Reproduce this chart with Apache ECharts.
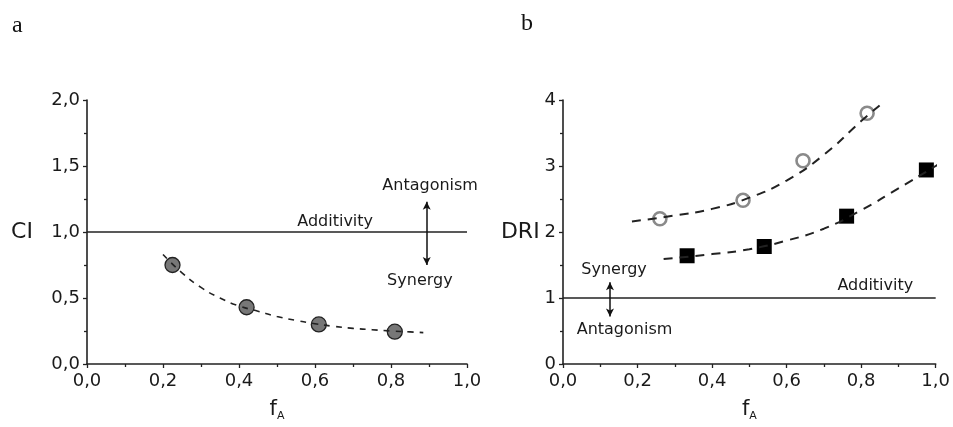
<!DOCTYPE html>
<html><head><meta charset="utf-8">
<script src="https://cdn.jsdelivr.net/npm/echarts@6/dist/echarts.min.js"></script>
<style>html,body{margin:0;padding:0;background:#fff}#c{width:953px;height:427px}</style>
</head><body><div id="c"></div>
<script>
// Panel a: CI vs fA
const ciPoints = [[0.225, 0.75], [0.42, 0.43], [0.61, 0.30], [0.81, 0.245]];
const ciFit = [[0.20,0.83],[0.25,0.69],[0.30,0.58],[0.35,0.50],[0.40,0.44],[0.45,0.40],[0.50,0.36],[0.55,0.33],[0.60,0.305],[0.65,0.285],[0.70,0.27],[0.75,0.26],[0.80,0.25],[0.85,0.243],[0.885,0.238]];
// Panel b: DRI vs fA
const driCircles = [[0.26, 2.20], [0.483, 2.48], [0.644, 3.08], [0.816, 3.80]];
const driCircleFit = [[0.185,2.16],[0.30,2.25],[0.40,2.35],[0.50,2.52],[0.60,2.78],[0.70,3.17],[0.80,3.68],[0.851,3.925]];
const driSquares = [[0.333, 1.64], [0.54, 1.78], [0.761, 2.24], [0.975, 2.94]];
const driSquareFit = [[0.27,1.59],[0.40,1.665],[0.50,1.74],[0.60,1.87],[0.70,2.05],[0.80,2.33],[0.90,2.66],[1.00,3.00],[1.03,3.10]];
const additivity = [[0, 1], [1, 1]];
const xTickLabels = ['0,0','0,2','0,4','0,6','0,8','1,0'];
const yTickLabelsA = ['0,0','0,5','1,0','1,5','2,0'];
const yTickLabelsB = ['0','1','2','3','4'];
const annotA = [{name:'Additivity', value:[0.653,1.079]},{name:'Antagonism', value:[0.903,1.348]},{name:'Synergy', value:[0.876,0.629]}];
const annotB = [{name:'Additivity', value:[0.838,1.18]},{name:'Synergy', value:[0.137,1.42]},{name:'Antagonism', value:[0.165,0.51]}];
const arrowA = [[0.894,1.23],[0.894,0.75]];
const arrowB = [[0.126,1.24],[0.126,0.72]];

const FONT = 'DejaVu Sans';
const TXT = '#1a1a1a';
const AX = '#222';

function xAxisCfg(gi){
  return {
    gridIndex: gi, type:'value', min:0, max:1, interval:0.2,
    name:'{f|f}{s|A}', nameLocation:'middle', nameGap:46,
    nameTextStyle:{align:'center', verticalAlign:'middle',
      rich:{f:{fontFamily:FONT,fontSize:21,color:TXT,lineHeight:24},
            s:{fontFamily:FONT,fontSize:11,color:TXT,lineHeight:24,verticalAlign:'bottom',padding:[10,0,0,0]}}},
    axisLine:{show:true,onZero:false,lineStyle:{color:AX,width:1.6}},
    axisTick:{show:true,length:4,lineStyle:{color:AX,width:1.3}},
    minorTick:{show:true,splitNumber:2,length:3,lineStyle:{color:AX,width:1.3}},
    splitLine:{show:false},
    axisLabel:{margin:8,fontFamily:FONT,fontSize:18,color:TXT,
      formatter:(v)=>xTickLabels[Math.round(v/0.2)]}
  };
}
function yAxisCfg(gi,max,interval,labels,name,gap){
  return {
    gridIndex: gi, type:'value', min:0, max:max, interval:interval,
    name:name, nameLocation:'middle', nameRotate:0, nameGap:gap,
    nameTextStyle:{align:'center',verticalAlign:'middle',fontFamily:FONT,fontSize:22,color:TXT},
    axisLine:{show:true,onZero:false,lineStyle:{color:AX,width:1.6}},
    axisTick:{show:true,length:4,lineStyle:{color:AX,width:1.3}},
    minorTick:{show:true,splitNumber:2,length:3,lineStyle:{color:AX,width:1.3}},
    splitLine:{show:false},
    axisLabel:{margin:7,fontFamily:FONT,fontSize:18,color:TXT,
      formatter:(v)=>labels[Math.round(v/interval)]}
  };
}
function annotSeries(gi,data){
  return {type:'scatter', xAxisIndex:gi, yAxisIndex:gi, data:data, symbolSize:0, silent:true,
    itemStyle:{opacity:1},
    label:{show:true, position:'inside', formatter:'{b}', fontFamily:FONT, fontSize:16, color:TXT}};
}
function arrowSeries(gi,pts){
  return {type:'line', xAxisIndex:gi, yAxisIndex:gi, data:[], silent:true,
    markLine:{silent:true, symbol:['arrow','arrow'], symbolSize:[6,8], label:{show:false},
      lineStyle:{color:'#111',width:1.5,type:'solid',opacity:1},
      data:[[{coord:pts[0]},{coord:pts[1]}]]}};
}

const chart = echarts.init(document.getElementById('c'), null, {renderer:'canvas'});
chart.setOption({
  animation:false,
  backgroundColor:'#fff',
  grid:[{left:87, top:100, width:380, height:267},{left:563, top:100, width:378, height:267}],
  xAxis:[xAxisCfg(0), xAxisCfg(1)],
  yAxis:[yAxisCfg(0,2,0.5,yTickLabelsA,'CI',65), yAxisCfg(1,4,1,yTickLabelsB,'DRI',42)],
  graphic:[
    {type:'text', left:12, top:14, style:{text:'a', font:'24px "Liberation Serif"', fill:'#111'}},
    {type:'text', left:521, top:12, style:{text:'b', font:'24px "Liberation Serif"', fill:'#111'}}
  ],
  series:[
    {type:'line', xAxisIndex:0, yAxisIndex:0, data:additivity, symbol:'none', lineStyle:{color:AX,width:1.6}, silent:true},
    {type:'scatter', xAxisIndex:0, yAxisIndex:0, data:ciPoints, symbol:'circle', symbolSize:15,
      itemStyle:{color:'#777', borderColor:'#222', borderWidth:1.3, opacity:1}},
    {type:'line', xAxisIndex:0, yAxisIndex:0, data:ciFit, smooth:true, symbol:'none',
      lineStyle:{color:AX,width:1.6,type:[6,6]}, z:3},
    annotSeries(0, annotA),
    arrowSeries(0, arrowA),

    {type:'line', xAxisIndex:1, yAxisIndex:1, data:additivity, symbol:'none', lineStyle:{color:AX,width:1.6}, silent:true},
    {type:'scatter', xAxisIndex:1, yAxisIndex:1, data:driCircles, symbol:'circle', symbolSize:13,
      itemStyle:{color:'#fff', borderColor:'#8a8a8a', borderWidth:2.6, opacity:1}},
    {type:'scatter', xAxisIndex:1, yAxisIndex:1, data:driSquares, symbol:'rect', symbolSize:15,
      itemStyle:{color:'#000', opacity:1}},
    {type:'line', xAxisIndex:1, yAxisIndex:1, data:driCircleFit, smooth:true, symbol:'none',
      lineStyle:{color:AX,width:2,type:[9,7]}, z:3},
    {type:'line', xAxisIndex:1, yAxisIndex:1, data:driSquareFit, smooth:true, symbol:'none', clip:false,
      lineStyle:{color:AX,width:2,type:[9,7]}, z:3},
    annotSeries(1, annotB),
    arrowSeries(1, arrowB)
  ]
});
</script></body></html>
